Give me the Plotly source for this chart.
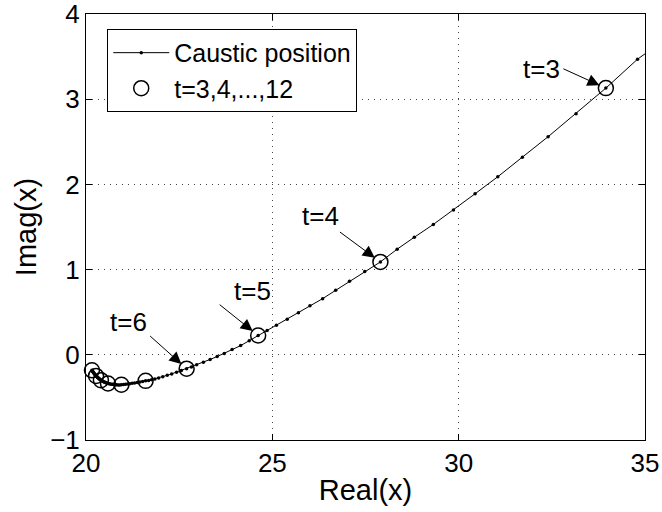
import plotly.graph_objects as go

# Caustic position samples (t = 2.8, 2.9, ..., 12.0)
re_vals = [
    35.70, 34.80,
    33.95, 33.15, 32.40, 31.71, 31.05, 30.44, 29.86, 29.32, 28.81, 28.35,
    27.90, 27.48, 27.07, 26.70, 26.35, 26.01, 25.70, 25.40, 25.11, 24.86,
    24.62, 24.38, 24.15, 23.92, 23.71, 23.52, 23.33, 23.15, 22.97, 22.83,
    22.70, 22.56, 22.43, 22.30, 22.18, 22.06, 21.95, 21.85, 21.76, 21.68,
    21.60, 21.52, 21.445, 21.375, 21.305, 21.24, 21.175, 21.115, 21.06, 21.005,
    20.95, 20.905, 20.863, 20.823, 20.785, 20.749, 20.714, 20.681, 20.649, 20.619,
    20.59, 20.57, 20.55, 20.53, 20.51, 20.49, 20.47, 20.45, 20.435, 20.42,
    20.40, 20.386, 20.372, 20.358, 20.345, 20.332, 20.319, 20.306, 20.294, 20.282,
    20.27, 20.258, 20.246, 20.234, 20.222, 20.211, 20.20, 20.189, 20.179, 20.169,
    20.16,
]
im_vals = [
    3.75, 3.47,
    3.13, 2.83, 2.56, 2.32, 2.09, 1.89, 1.70, 1.53, 1.38, 1.24,
    1.09, 0.977, 0.862, 0.757, 0.659, 0.575, 0.494, 0.416, 0.346, 0.285,
    0.227, 0.166, 0.108, 0.061, 0.015, -0.020, -0.055, -0.086, -0.118, -0.142,
    -0.163, -0.185, -0.205, -0.224, -0.241, -0.257, -0.271, -0.283, -0.293, -0.301,
    -0.306, -0.313, -0.319, -0.325, -0.330, -0.335, -0.339, -0.343, -0.346, -0.349,
    -0.352, -0.353, -0.353, -0.352, -0.351, -0.349, -0.347, -0.345, -0.342, -0.340,
    -0.337, -0.334, -0.330, -0.327, -0.323, -0.319, -0.315, -0.311, -0.307, -0.302,
    -0.298, -0.293, -0.288, -0.283, -0.278, -0.273, -0.268, -0.263, -0.258, -0.253,
    -0.248, -0.241, -0.235, -0.228, -0.222, -0.215, -0.208, -0.202, -0.195, -0.189,
    -0.182,
]

# integer-t positions (t = 3..12)
circle_t = [3, 4, 5, 6, 7, 8, 9, 10, 11, 12]
circle_re = [33.95, 27.90, 24.62, 22.70, 21.60, 20.95, 20.59, 20.40, 20.27, 20.16]
circle_im = [3.13, 1.09, 0.227, -0.163, -0.306, -0.352, -0.337, -0.298, -0.248, -0.182]

# annotated t values: label centre offset and arrow-tail offset (pixels from the point)
label_t = [3, 4, 5, 6]
label_dx = [-64, -60, -6, -58]
label_dy = [-19, -46, -44, -47]
tail_dx = [-44, -42, -40, -38]
tail_dy = [-20, -31, -32, -34]

x_ticks = [20, 25, 30, 35]
y_ticks = [-1, 0, 1, 2, 3, 4]

FONT = "Liberation Sans, Arial, sans-serif"

fig = go.Figure()
fig.add_trace(go.Scatter(
    x=re_vals, y=im_vals, mode="lines+markers", name="Caustic position",
    line=dict(color="black", width=1),
    marker=dict(color="black", size=3.5, symbol="circle"),
))
fig.add_trace(go.Scatter(
    x=circle_re, y=circle_im, mode="markers", name="t=3,4,...,12",
    marker=dict(symbol="circle-open", size=15, color="black", line=dict(width=1.5)),
    cliponaxis=False,
))

for t, ldx, ldy, adx, ady in zip(label_t, label_dx, label_dy, tail_dx, tail_dy):
    i = circle_t.index(t)
    fig.add_annotation(
        x=circle_re[i], y=circle_im[i], xref="x", yref="y",
        text="", showarrow=True, ax=adx, ay=ady,
        arrowhead=2, arrowsize=2.4, arrowwidth=1, arrowcolor="black",
        standoff=7,
    )
    fig.add_annotation(
        x=circle_re[i], y=circle_im[i], xref="x", yref="y",
        text=f"t={t}", showarrow=False, xshift=ldx, yshift=-ldy,
        font=dict(family=FONT, size=26, color="black"),
    )

axis_common = dict(
    showline=True, linecolor="black", linewidth=1, mirror="ticks",
    ticks="inside", ticklen=6, tickcolor="black",
    showgrid=True, gridcolor="#444", gridwidth=1, griddash="1px,5px",
    zeroline=False, ticklabeloverflow="allow", automargin=False,
    tickfont=dict(family=FONT, size=26, color="black"),
    title_font=dict(family=FONT, size=29, color="black"),
)

fig.update_xaxes(range=[20, 35], tickvals=x_ticks, title_text="Real(x)",
                 title_standoff=2, **axis_common)
fig.update_yaxes(range=[-1, 4], tickvals=y_ticks,
                 ticktext=[("\u2212" + str(-v)) if v < 0 else str(v) for v in y_ticks],
                 title_text="Imag(x)", title_standoff=4, **axis_common)

fig.update_layout(
    width=662, height=512,
    margin=dict(l=86, r=17, t=14, b=72),
    plot_bgcolor="white", paper_bgcolor="white",
    font=dict(family=FONT, color="black"),
    showlegend=True,
    legend=dict(
        x=0.038, y=0.965, xanchor="left", yanchor="top",
        bgcolor="white", bordercolor="black", borderwidth=1,
        font=dict(family=FONT, size=25, color="black"),
        itemwidth=56, tracegroupgap=0,
    ),
)

fig.write_html("out.html")
